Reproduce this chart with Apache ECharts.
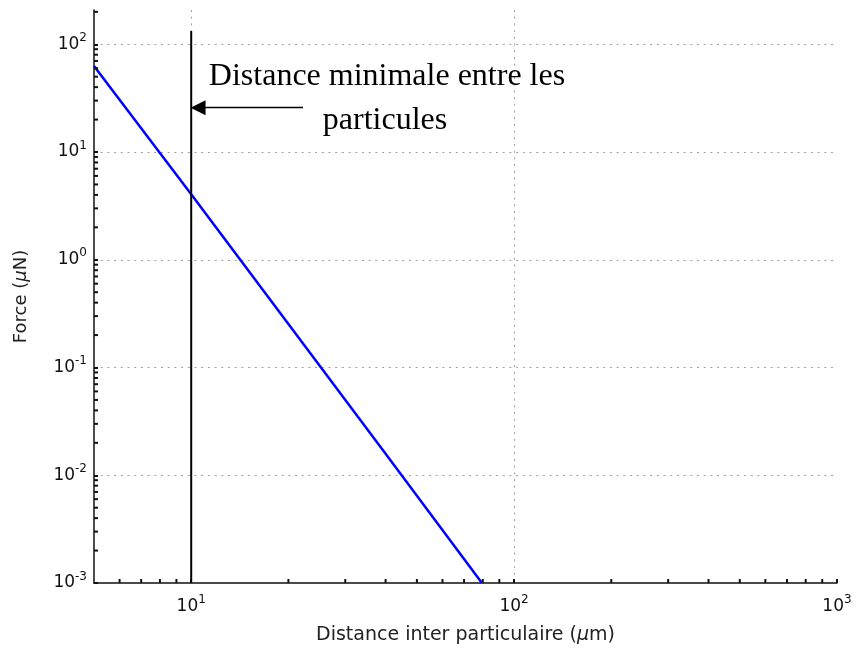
<!DOCTYPE html>
<html>
<head>
<meta charset="utf-8">
<script src="https://cdn.jsdelivr.net/npm/echarts@6/dist/echarts.min.js"></script>
<style>html,body{margin:0;padding:0;background:#fff}#c{width:861px;height:655px}</style>
</head>
<body>
<div id="c"></div>
<script>
// Data
const forceCurve = [[5, 63], [10, 4.05], [20, 0.253], [40, 0.0158], [79.5, 0.001]];
const minDistanceLine = [[10, 0.001], [10, 133]];
const arrowFrom = [22.2, 25.8];
const arrowTo = [10.5, 25.8];
const xRange = [5, 1000];
const yRange = [0.001, 208];
const xMinorTicks = [6, 7, 8, 9, 20, 30, 40, 50, 60, 70, 80, 90, 200, 300, 400, 500, 600, 700, 800, 900];
const yMinorTicks = [0.002, 0.003, 0.004, 0.005, 0.006, 0.007, 0.008, 0.009,
  0.02, 0.03, 0.04, 0.05, 0.06, 0.07, 0.08, 0.09,
  0.2, 0.3, 0.4, 0.5, 0.6, 0.7, 0.8, 0.9,
  2, 3, 4, 5, 6, 7, 8, 9,
  20, 30, 40, 50, 60, 70, 80, 90, 200];
const annotationLines = ['Distance minimale entre les', 'particules'];

function powLabel(v) {
  const l = Math.log10(v);
  const e = Math.round(l);
  if (Math.abs(l - e) > 1e-6) return '';
  return '{b|10}{s|' + e + '}';
}
const richLab = {
  b: { fontSize: 17, fontFamily: 'DejaVu Sans', color: '#111' },
  s: { fontSize: 12, fontFamily: 'DejaVu Sans', color: '#111', padding: [0, 0, 13, 0] }
};
const gridLine = { show: true, showMinLine: false, showMaxLine: false, lineStyle: { color: '#a0a0a0', type: [2, 4.7], width: 1 } };
const italicMuX = { i: { fontSize: 19, fontStyle: 'italic', fontFamily: 'DejaVu Sans', color: '#222' } };
const italicMuY = { i: { fontSize: 18, fontStyle: 'italic', fontFamily: 'DejaVu Sans', color: '#222' } };

const chart = echarts.init(document.getElementById('c'));
chart.setOption({
  animation: false,
  grid: { left: 94, right: 24, top: 10, bottom: 72, containLabel: false },
  xAxis: {
    type: 'log', logBase: 10, min: xRange[0], max: xRange[1],
    name: 'Distance inter particulaire ({i|μ}m)',
    nameLocation: 'middle', nameGap: 43,
    nameTextStyle: { fontSize: 19, fontFamily: 'DejaVu Sans', color: '#222', rich: italicMuX },
    axisLine: { show: true, lineStyle: { color: '#111', width: 1.5 } },
    axisTick: { show: true, inside: true, length: 4, lineStyle: { color: '#111', width: 2 } },
    axisLabel: { fontSize: 17, formatter: powLabel, rich: richLab, margin: 11, showMinLabel: false },
    splitLine: gridLine
  },
  yAxis: {
    type: 'log', logBase: 10, min: yRange[0], max: yRange[1],
    name: 'Force ({i|μ}N)',
    nameLocation: 'middle', nameGap: 64,
    nameTextStyle: { fontSize: 18, fontFamily: 'DejaVu Sans', color: '#222', rich: italicMuY },
    axisLine: { show: true, lineStyle: { color: '#111', width: 1.5 } },
    axisTick: { show: true, inside: true, length: 4, lineStyle: { color: '#111', width: 2 } },
    axisLabel: { fontSize: 17, formatter: powLabel, rich: richLab, margin: 7, showMaxLabel: false },
    splitLine: gridLine
  },
  series: [
    {
      type: 'line', data: forceCurve, showSymbol: false, symbol: 'none',
      lineStyle: { color: '#0000ff', width: 2.5 }, z: 3
    },
    {
      type: 'line', data: minDistanceLine, showSymbol: false, symbol: 'none',
      lineStyle: { color: '#000', width: 2 }, z: 4,
      markLine: {
        silent: true, symbol: ['none', 'triangle'], symbolSize: [15, 15],
        lineStyle: { color: '#000', width: 1.3, type: 'solid' },
        label: { show: false },
        data: [[{ coord: arrowFrom }, { coord: arrowTo }]]
      }
    },
    {
      type: 'custom', coordinateSystem: 'cartesian2d', silent: true, clip: false, z: 6,
      data: xMinorTicks.map(v => [v, yRange[0]]),
      renderItem(params, api) {
        const p = api.coord([api.value(0), api.value(1)]);
        return { type: 'line', shape: { x1: p[0], y1: p[1], x2: p[0], y2: p[1] - 4 }, style: { stroke: '#111', lineWidth: 2 } };
      }
    },
    {
      type: 'custom', coordinateSystem: 'cartesian2d', silent: true, clip: false, z: 6,
      data: yMinorTicks.map(v => [xRange[0], v]),
      renderItem(params, api) {
        const p = api.coord([api.value(0), api.value(1)]);
        return { type: 'line', shape: { x1: p[0], y1: p[1], x2: p[0] + 4, y2: p[1] }, style: { stroke: '#111', lineWidth: 2 } };
      }
    }
  ],
  graphic: [
    { type: 'text', x: 387, y: 77, z: 10, style: { text: annotationLines[0], fontFamily: 'Liberation Serif', fontSize: 32, fill: '#000', align: 'center', verticalAlign: 'middle' } },
    { type: 'text', x: 385, y: 121, z: 10, style: { text: annotationLines[1], fontFamily: 'Liberation Serif', fontSize: 32, fill: '#000', align: 'center', verticalAlign: 'middle' } }
  ]
});
</script>
</body>
</html>
